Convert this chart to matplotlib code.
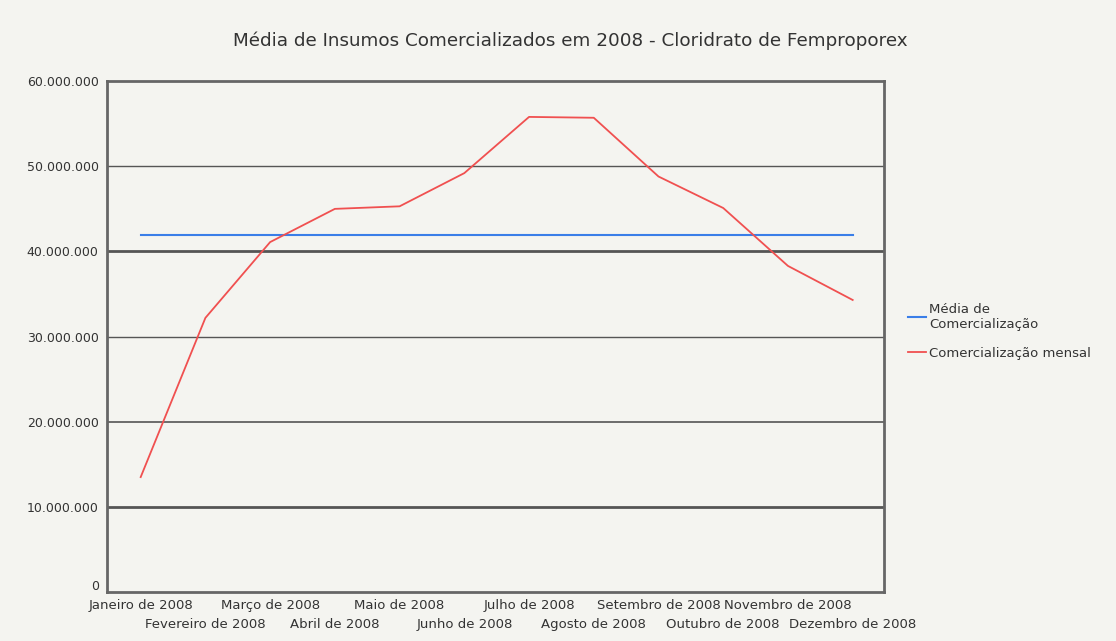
import numpy as np
import matplotlib
matplotlib.use('Agg')
import matplotlib.pyplot as plt
from matplotlib.transforms import ScaledTranslation

# Monthly values
meses = ['Janeiro de 2008', 'Fevereiro de 2008', 'Março de 2008', 'Abril de 2008',
         'Maio de 2008', 'Junho de 2008', 'Julho de 2008', 'Agosto de 2008',
         'Setembro de 2008', 'Outubro de 2008', 'Novembro de 2008', 'Dezembro de 2008']
mensal = [13_500_000, 32_200_000, 41_100_000, 45_000_000, 45_300_000, 49_200_000,
          55_800_000, 55_700_000, 48_800_000, 45_100_000, 38_300_000, 34_300_000]
media = [41_900_000] * 12
y_ticks = [0, 10_000_000, 20_000_000, 30_000_000, 40_000_000, 50_000_000, 60_000_000]

bg = '#f4f4f0'
fig = plt.figure(figsize=(11.16, 6.41), dpi=100, facecolor=bg)
ax = fig.add_axes([0.0959, 0.0764, 0.696, 0.797], facecolor=bg)

x = np.arange(len(meses))

# horizontal grid lines, some drawn heavier as in the original
for v in y_ticks[1:-1]:
    lw = 2.0 if v in (10_000_000, 40_000_000) else 1.2 if v == 20_000_000 else 1.0
    ax.axhline(v, color='#555555', lw=lw, zorder=1)

ax.plot(x, media, color='#3a7ee8', lw=1.5, label='Média de\nComercialização', zorder=3)
ax.plot(x, mensal, color='#f05050', lw=1.3, label='Comercialização mensal', zorder=3)

ax.set_xlim(-0.52, 11.48)
ax.set_ylim(0, 60_000_000)
ax.set_yticks(y_ticks)
ax.set_yticklabels(['0' if v == 0 else f'{v:,}'.replace(',', '.') for v in y_ticks])

ax.set_xticks(x)
ax.set_xticklabels(meses)
for i, t in enumerate(ax.xaxis.get_major_ticks()):
    t.set_pad(5 if i % 2 == 0 else 19)

ax.tick_params(axis='x', labelsize=9.5, colors='#333333', length=0)
ax.tick_params(axis='y', labelsize=9, colors='#333333', length=0, pad=6)

# lift the "0" label a little so it clears the first month label
zero = ax.get_yticklabels()[0]
zero.set_transform(zero.get_transform() + ScaledTranslation(0, 5 / 72, fig.dpi_scale_trans))

for s in ax.spines.values():
    s.set_color('#666666')
    s.set_linewidth(2)

fig.text(0.511, 0.936, 'Média de Insumos Comercializados em 2008 - Cloridrato de Femproporex',
         ha='center', va='center', fontsize=13.2, color='#333333')

leg = fig.legend(loc='center left', bbox_to_anchor=(0.803, 0.483), frameon=False,
                 fontsize=9.5, handlelength=1.4, handletextpad=0.2, labelspacing=1.2)
for t in leg.get_texts():
    t.set_color('#333333')

fig.savefig('out.png', dpi=100, facecolor=bg)
